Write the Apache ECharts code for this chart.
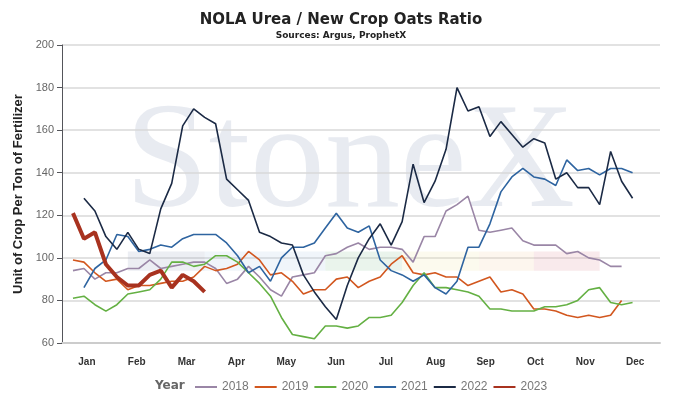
<!DOCTYPE html>
<html>
<head>
<meta charset="UTF-8" />
<script src="https://cdn.jsdelivr.net/npm/echarts@6/dist/echarts.min.js"></script>
<style>
  body { margin: 0; background: #fff; }
  #chart { width: 682px; height: 412px; }
</style>
</head>
<body>
<div id="chart"></div>
<script>
  var months = ["Jan","Feb","Mar","Apr","May","Jun","Jul","Aug","Sep","Oct","Nov","Dec"];
  var years = ["2018","2019","2020","2021","2022","2023"];
  var colors = ["#9a86a6","#d2571f","#64b043","#2e64a0","#1b2a45","#a8321f"];
  // weekly values, first week for each year
  var start = [1, 1, 1, 2, 2, 1];
  var y2018 = [94,95,90,93,93,95,95,99,95,96,97,98,98,95,88,90,96,91,85,82,91,92,93,101,102,105,107,104,105,105,104,98,110,110,122,125,129,113,112,113,114,108,106,106,106,102,103,100,99,96,96];
  var y2019 = [99,98,93,89,90,85,87,87,88,89,89,91,96,94,95,97,103,99,92,93,89,83,85,85,90,91,86,89,91,97,101,93,92,93,91,91,87,89,91,84,85,83,76,76,75,73,72,73,72,73,80];
  var y2020 = [81,82,78,75,78,83,84,85,90,98,98,96,97,101,101,98,93,88,82,72,64,63,62,68,68,67,68,72,72,73,79,87,93,86,86,85,84,82,76,76,75,75,75,77,77,78,80,85,86,79,78,79];
  var y2021 = [86,95,99,111,110,103,104,106,105,109,111,111,111,107,101,93,96,89,100,105,105,107,114,121,114,112,115,99,94,92,89,92,86,83,89,105,105,116,131,138,142,138,137,134,146,141,142,139,142,142,140];
  var y2022 = [128,122,110,104,112,104,102,123,135,162,170,166,163,137,132,127,112,110,107,106,92,84,77,71,87,100,109,116,106,117,144,126,136,151,180,169,171,157,164,158,152,156,154,137,140,133,133,125,150,136,128];
  var y2023 = [121,109,112,97,91,87,87,92,94,86,92,89,84];
  var allData = [y2018, y2019, y2020, y2021, y2022, y2023];

  var bands = [
    [6, 13, "rgba(150,160,190,0.18)"],
    [13, 24, "rgba(170,200,230,0.18)"],
    [24, 31, "rgba(150,200,160,0.2)"],
    [31, 38, "rgba(240,230,170,0.2)"],
    [38, 43, "rgba(245,210,170,0.2)"],
    [43, 49, "rgba(230,170,180,0.25)"]
  ];

  var series = years.map(function (y, i) {
    var s = {
      name: y,
      type: "line",
      symbol: "none",
      data: allData[i].map(function (v, k) { return [start[i] + k, v]; }),
      lineStyle: { width: i == 5 ? 4 : 1.6, color: colors[i] },
      itemStyle: { color: colors[i] },
      z: i == 5 ? 10 : 3
    };
    if (i == 0) {
      s.markArea = {
        silent: true,
        data: bands.map(function (b) {
          return [{ xAxis: b[0], yAxis: 94, itemStyle: { color: b[2] } }, { xAxis: b[1], yAxis: 103 }];
        })
      };
    }
    return s;
  });

  var chart = echarts.init(document.getElementById("chart"));
  chart.setOption({
    animation: false,
    color: colors,
    title: {
      text: "NOLA Urea / New Crop Oats Ratio",
      subtext: "Sources: Argus, ProphetX",
      left: "center",
      top: 8,
      itemGap: 3,
      textStyle: { fontSize: 15, fontWeight: "bold", color: "#222", fontFamily: "DejaVu Sans" },
      subtextStyle: { fontSize: 9, fontWeight: "bold", color: "#222", fontFamily: "DejaVu Sans" }
    },
    graphic: [{
      type: "text", left: 125, top: 92, z: 0, silent: true,
      style: { text: "StoneX", font: "150px 'Liberation Serif', serif", fill: "rgba(190,198,215,0.35)" }
    }, {
      type: "text", left: 155, top: 380, silent: true,
      style: { text: "Year", font: "bold 12px 'DejaVu Sans'", fill: "#666" }
    }],
    legend: {
      bottom: 14, left: 190,
      itemWidth: 22, itemHeight: 2, itemGap: 6,
      icon: "rect",
      textStyle: { color: "#777", fontSize: 12 },
      data: years
    },
    grid: { left: 62, right: 22, top: 45, bottom: 69 },
    xAxis: [{
      type: "value", min: 0, max: 54.5, interval: 10,
      axisLine: { lineStyle: { color: "#ccc", width: 2 } },
      axisTick: { show: false },
      axisLabel: { show: false },
      splitLine: { show: false }
    }, {
      type: "category", data: months, position: "bottom",
      axisLine: { show: false }, axisTick: { show: false },
      axisLabel: { margin: 14, fontSize: 10, fontWeight: "bold", color: "#333" }
    }],
    yAxis: {
      type: "value", min: 60, max: 200, interval: 20,
      name: "Unit of Crop Per Ton of Fertilizer",
      nameLocation: "middle", nameGap: 34,
      nameTextStyle: { fontSize: 13, fontWeight: "bold", color: "#222" },
      axisLabel: { color: "#666", fontSize: 11 },
      splitLine: { lineStyle: { color: "#d8d8d8", width: 1.5 } }
    },
    series: series
  });
</script>
</body>
</html>
